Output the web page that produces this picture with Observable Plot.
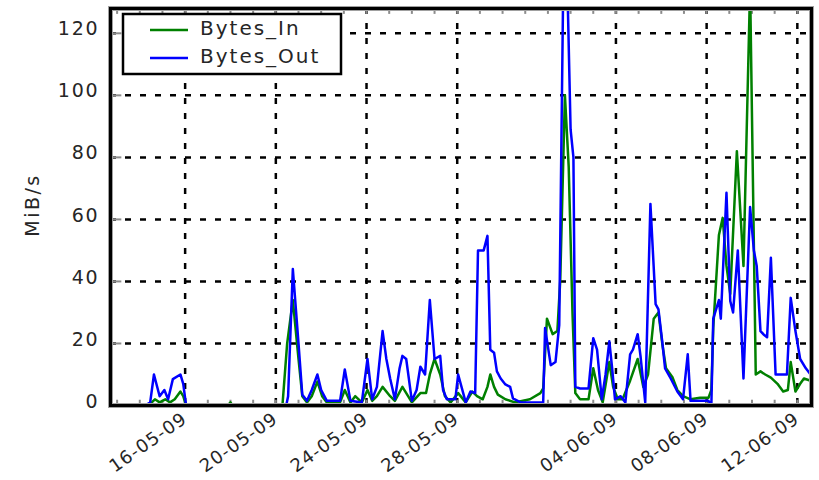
<!DOCTYPE html>
<html><head><meta charset="utf-8">
<script src="https://cdn.jsdelivr.net/npm/d3@7"></script>
<script src="https://cdn.jsdelivr.net/npm/@observablehq/plot@0.6"></script>
<style>
body{margin:0;background:#fff;}
#chart{position:relative;width:819px;height:480px;}
</style></head><body><div id="chart"></div>
<script>
// ---- data ----
const seriesNames = ["Bytes_In", "Bytes_Out"];
const seriesColors = ["#008000", "#0000ff"];
const yLabel = "MiB/s";
const yTicks = [0, 20, 40, 60, 80, 100, 120];
const yDomain = [0, 128];
const xDomain = ["2009-05-12T17:00", "2009-06-12T15:00"];
const xTickDates = ["2009-05-16T00:00", "2009-05-20T00:00", "2009-05-24T00:00", "2009-05-28T00:00",
                    "2009-06-04T00:00", "2009-06-08T00:00", "2009-06-12T00:00"];

const inTimes = [
 "2009-05-14T06:00","2009-05-14T11:00","2009-05-14T16:00","2009-05-14T21:00","2009-05-15T03:00","2009-05-15T08:00",
 "2009-05-15T13:00","2009-05-15T19:00","2009-05-15T22:00","2009-05-16T01:00","2009-05-17T21:00","2009-05-18T00:00",
 "2009-05-18T02:00","2009-05-20T07:00","2009-05-20T12:00","2009-05-20T18:00","2009-05-21T00:00","2009-05-21T04:00",
 "2009-05-21T09:00","2009-05-21T14:00","2009-05-21T20:00","2009-05-22T01:00","2009-05-22T06:00","2009-05-22T20:00",
 "2009-05-23T01:00","2009-05-23T07:00","2009-05-23T12:00","2009-05-23T19:00","2009-05-24T01:00","2009-05-24T06:00",
 "2009-05-24T11:00","2009-05-24T17:00","2009-05-25T01:00","2009-05-25T06:00","2009-05-25T14:00","2009-05-25T20:00",
 "2009-05-26T00:00","2009-05-26T09:00","2009-05-26T15:00","2009-05-26T19:00","2009-05-27T00:00","2009-05-27T06:00",
 "2009-05-27T11:00","2009-05-27T17:00","2009-05-28T01:00","2009-05-28T09:00","2009-05-28T16:00","2009-05-28T21:00",
 "2009-05-29T03:00","2009-05-29T08:00","2009-05-29T11:00","2009-05-29T15:00","2009-05-29T19:00","2009-05-30T03:00",
 "2009-05-30T13:00","2009-05-31T05:00","2009-05-31T16:00","2009-05-31T19:00","2009-05-31T23:00","2009-06-01T05:00",
 "2009-06-01T10:00","2009-06-01T13:00","2009-06-01T18:00","2009-06-01T22:00","2009-06-02T02:00","2009-06-02T05:00",
 "2009-06-02T10:00","2009-06-02T19:00","2009-06-03T00:00","2009-06-03T05:00","2009-06-03T10:00","2009-06-03T17:00",
 "2009-06-03T21:00","2009-06-04T02:00","2009-06-04T07:00","2009-06-04T15:00","2009-06-04T23:00","2009-06-05T05:00",
 "2009-06-05T10:00","2009-06-05T16:00","2009-06-05T21:00","2009-06-06T01:00","2009-06-06T05:00","2009-06-06T12:00",
 "2009-06-06T17:00","2009-06-06T23:00","2009-06-07T07:00","2009-06-07T17:00","2009-06-08T02:00","2009-06-08T05:00",
 "2009-06-08T07:00","2009-06-08T13:00","2009-06-08T17:00","2009-06-08T21:00","2009-06-09T01:00","2009-06-09T08:00",
 "2009-06-09T15:00","2009-06-09T22:00","2009-06-10T04:00","2009-06-10T09:00","2009-06-10T14:00","2009-06-10T20:00",
 "2009-06-11T03:00","2009-06-11T09:00","2009-06-11T14:00","2009-06-11T17:00","2009-06-11T22:00","2009-06-12T03:00",
 "2009-06-12T07:00","2009-06-12T14:00"
];
const inValues = [
 0,0.5,2,1,2,1,
 2,4.5,3,0,0,1,
 0,0,20,34,15,3,
 1,3,7.7,3,1,1,
 5,1,3,1,5,1.5,
 3,6,3,1.5,6,3,
 1,4,4,10,15,10,
 3,1,4,1,4.5,3,
 2,6,10,6,3.5,2,
 1,2,4,5.5,28,23,
 24,40,100,77,30,4,
 2,2,12,5,1,14,
 6,2,2,8,15,6,
 10,28,30,20,12,9,
 5,3,2,2.5,2.5,5,
 25,55,60.5,45,36,82,
 45,135,10,11,10,9,
 7,4.5,5,14,4.5,7,
 8.7,8
];

const outTimes = [
 "2009-05-14T06:00","2009-05-14T11:00","2009-05-14T15:00","2009-05-14T21:00","2009-05-15T02:00","2009-05-15T06:00",
 "2009-05-15T11:00","2009-05-15T19:00","2009-05-15T22:00","2009-05-16T01:00","2009-05-18T00:00","2009-05-20T11:00",
 "2009-05-20T13:00","2009-05-20T18:00","2009-05-21T00:00","2009-05-21T04:00","2009-05-21T09:00","2009-05-21T14:00",
 "2009-05-21T20:00","2009-05-22T00:00","2009-05-22T06:00","2009-05-22T20:00","2009-05-23T01:00","2009-05-23T07:00",
 "2009-05-23T19:00","2009-05-24T01:00","2009-05-24T06:00","2009-05-24T11:00","2009-05-24T17:00","2009-05-24T21:00",
 "2009-05-25T01:00","2009-05-25T06:00","2009-05-25T11:00","2009-05-25T14:00","2009-05-25T18:00","2009-05-26T00:00",
 "2009-05-26T05:00","2009-05-26T09:00","2009-05-26T14:00","2009-05-26T19:00","2009-05-27T00:00","2009-05-27T06:00",
 "2009-05-27T09:00","2009-05-27T13:00","2009-05-27T22:00","2009-05-28T01:00","2009-05-28T09:00","2009-05-28T14:00",
 "2009-05-28T19:00","2009-05-28T22:00","2009-05-29T04:00","2009-05-29T08:00","2009-05-29T11:00","2009-05-29T15:00",
 "2009-05-29T18:00","2009-05-29T22:00","2009-05-30T03:00","2009-05-30T08:00","2009-05-30T11:00","2009-05-30T19:00",
 "2009-05-31T16:00","2009-05-31T19:00","2009-05-31T21:00","2009-06-01T03:00","2009-06-01T08:00","2009-06-01T12:00",
 "2009-06-01T16:00","2009-06-01T21:00","2009-06-02T00:00","2009-06-02T03:00","2009-06-02T05:00","2009-06-02T10:00",
 "2009-06-02T19:00","2009-06-03T00:00","2009-06-03T04:00","2009-06-03T09:00","2009-06-03T13:00","2009-06-03T17:00",
 "2009-06-03T20:00","2009-06-03T23:00","2009-06-04T05:00","2009-06-04T10:00","2009-06-04T15:00","2009-06-04T18:00",
 "2009-06-04T23:00","2009-06-05T02:00","2009-06-05T07:00","2009-06-05T12:30","2009-06-05T18:00","2009-06-05T21:00",
 "2009-06-06T01:00","2009-06-06T04:00","2009-06-06T10:00","2009-06-06T17:00","2009-06-06T23:00","2009-06-07T04:00",
 "2009-06-07T07:00","2009-06-07T14:00","2009-06-08T02:00","2009-06-08T05:00","2009-06-08T07:00","2009-06-08T13:00",
 "2009-06-08T15:00","2009-06-08T21:00","2009-06-09T01:00","2009-06-09T04:00","2009-06-09T09:00","2009-06-09T15:00",
 "2009-06-09T22:00","2009-06-10T02:00","2009-06-10T05:00","2009-06-10T09:00","2009-06-10T12:00","2009-06-10T16:00",
 "2009-06-10T20:00","2009-06-11T01:00","2009-06-11T06:00","2009-06-11T13:00","2009-06-11T17:00","2009-06-11T22:00",
 "2009-06-12T03:00","2009-06-12T09:00","2009-06-12T14:00"
];
const outValues = [
 0,1,10,3,5,2,
 8.5,10,7,0,0,0,
 3,44,20,3.5,1.5,5,
 10,5,1.5,1.5,11.6,1.5,
 1,15,2,6,24,15,
 8.7,2,12,16,15,1.5,
 5,12.5,10,34,15,16,
 5,2,2,10,1,4.5,
 4,50,50,54.7,18,17,
 11,8.7,6.8,6,2.3,1,
 1,1,25,13,14,26,
 130,130,89,80,6,5.5,
 5.5,21.7,18,2,10,20.7,
 12,2,3,1,16.5,18,
 23,16,1,65,32.7,31,
 20.7,12,8.7,4.5,2,16.5,
 1.5,1.5,1.5,0,28,34,
 28,68.6,33.7,30,50,8.7,
 64,50,45,24,23,22,
 47.6,10,10,10,34.7,24,
 15,12,10
];

// ---- build ----
const parse = d3.timeParse("%Y-%m-%dT%H:%M");
const inData = inTimes.map((t, i) => ({t: parse(t), v: inValues[i]}));
const outData = outTimes.map((t, i) => ({t: parse(t), v: outValues[i]}));
const xd = xDomain.map(parse);
const xTicks = xTickDates.map(parse);
const days = d3.timeDay.range(d3.timeDay.ceil(xd[0]), xd[1]);
const fmt = d3.timeFormat("%d-%m-%y");
const grey = "#8c8c8c";
const ink = "#262626";

const svg = Plot.plot({
  width: 819, height: 480,
  marginLeft: 110, marginRight: 8, marginTop: 8, marginBottom: 75,
  style: {fontFamily: "DejaVu Sans", background: "white"},
  x: {type: "time", domain: xd, axis: null},
  y: {domain: yDomain, axis: null},
  marks: [
    Plot.ruleY(yTicks, {y: d => d, stroke: "black", strokeWidth: 2.5, strokeDasharray: "6,9"}),
    Plot.ruleX(xTicks, {x: d => d, stroke: "black", strokeWidth: 2.5, strokeDasharray: "6,9"}),
    Plot.ruleX(days, {x: d => d, y1: yDomain[0], y2: yDomain[0] + 1.7, stroke: grey, strokeWidth: 2}),
    Plot.ruleX(days, {x: d => d, y1: yDomain[1] - 1.9, y2: yDomain[1], stroke: grey, strokeWidth: 2}),
    Plot.ruleY(yTicks, {y: d => d, x1: xd[0], x2: new Date(+xd[0] + 12 * 36e5), stroke: grey, strokeWidth: 2}),
    Plot.lineY(inData, {x: "t", y: "v", stroke: seriesColors[0], strokeWidth: 2.5, clip: true}),
    Plot.lineY(outData, {x: "t", y: "v", stroke: seriesColors[1], strokeWidth: 2.5, clip: true}),
    Plot.frame({stroke: "#a0a0a0", strokeWidth: 5}),
    Plot.frame({stroke: "black", strokeWidth: 3}),
    Plot.text(yTicks, {y: d => d, frameAnchor: "left", dx: -11, dy: -4, textAnchor: "end",
      text: d => String(d), fontSize: 19, fill: ink}),
    Plot.text(xTicks, {x: d => d, frameAnchor: "bottom", dx: 3, dy: 16, rotate: -35, textAnchor: "end",
      text: d => fmt(d), fontSize: 18, fill: ink})
  ]
});

const root = d3.select(svg);
const textGroups = root.selectAll('g[aria-label="text"]').nodes();
if (textGroups[0]) d3.select(textGroups[0]).attr("letter-spacing", 1.8);
if (textGroups[1]) d3.select(textGroups[1]).attr("letter-spacing", 1);

// y axis label
root.append("text")
  .attr("transform", "translate(39,205) rotate(-90)")
  .attr("text-anchor", "middle")
  .attr("font-family", "DejaVu Sans").attr("font-size", 19).attr("letter-spacing", 2.5)
  .attr("fill", ink).text(yLabel);

// legend
const leg = root.append("g").attr("text-anchor", "start");
leg.append("rect").attr("x", 123).attr("y", 14).attr("width", 218).attr("height", 60)
  .attr("fill", "white").attr("stroke", "black").attr("stroke-width", 2.5);
seriesNames.forEach((name, i) => {
  const cy = 30 + i * 28;
  leg.append("line").attr("x1", 150).attr("x2", 188).attr("y1", cy).attr("y2", cy)
    .attr("stroke", seriesColors[i]).attr("stroke-width", 2.5);
  leg.append("text").attr("x", 200).attr("y", cy + 5).attr("text-anchor", "start")
    .attr("font-family", "DejaVu Sans").attr("font-size", 20).attr("letter-spacing", 2)
    .attr("fill", ink).text(name);
});

document.getElementById("chart").appendChild(svg);
</script>
</body></html>
